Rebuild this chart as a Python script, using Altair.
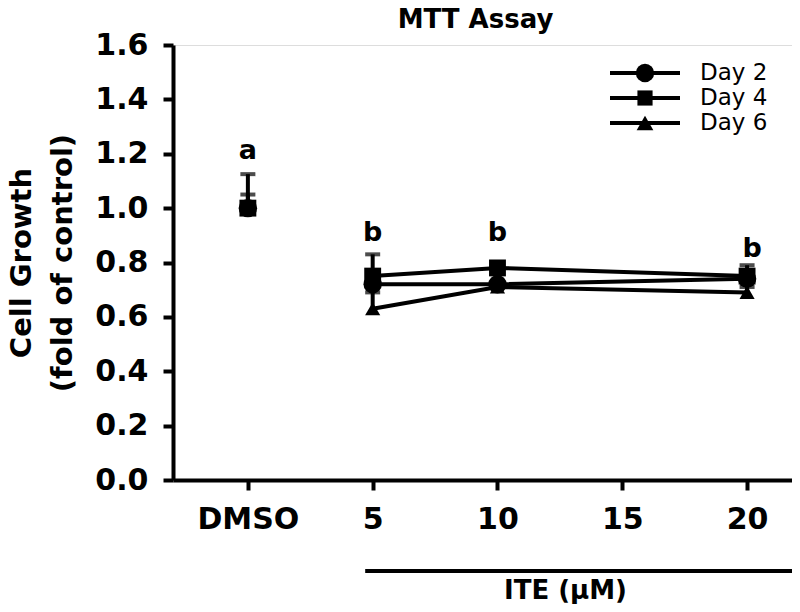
import altair as alt
import pandas as pd

# ---- data ----
doses = [0, 5, 10, 20]          # 0 = DMSO control
series = ["Day 2", "Day 4", "Day 6"]
shapes = ["circle", "square", "triangle-up"]
marker_sizes = [340, 230, 280]
draw_order = [3, 2, 1]          # Day 2 drawn on top
day2 = [1.00, 0.72, 0.72, 0.74]
day4 = [1.00, 0.75, 0.78, 0.75]
day6 = [1.00, 0.63, 0.71, 0.69]
err2 = [0.125, 0.02, 0.01, 0.02]
err4 = [0.05, 0.08, 0.02, 0.04]
err6 = [0.02, 0.06, 0.01, 0.02]

tick_values = [0, 5, 10, 15, 20]
y_ticks = [0.0, 0.2, 0.4, 0.6, 0.8, 1.0, 1.2, 1.4, 1.6]

letters = ["a", "b", "b", "b"]
letter_x = [0, 5, 10, 20.2]
letter_y = [1.21, 0.91, 0.91, 0.85]

bracket_x = [4.7, 21.8]

FONT = "DejaVu Sans"

rows = []
for name, vals, errs, o in [("Day 2", day2, err2, draw_order[0]),
                            ("Day 4", day4, err4, draw_order[1]),
                            ("Day 6", day6, err6, draw_order[2])]:
    for d, v, e in zip(doses, vals, errs):
        rows.append({"series": name, "dose": d, "value": v, "top": v + e, "ord": o})
df = pd.DataFrame(rows)
df_line = df[df["dose"] > 0]

x_scale = alt.Scale(domain=[-3, 21.8], nice=False, zero=False)
y_scale = alt.Scale(domain=[0, 1.6], nice=False)
shape_scale = alt.Scale(domain=series, range=shapes)
size_scale = alt.Scale(domain=series, range=marker_sizes)

x_enc = alt.X(
    "dose:Q",
    scale=x_scale,
    axis=alt.Axis(
        values=tick_values,
        labelExpr="datum.value == 0 ? 'DMSO' : datum.label",
        title="ITE (µM)",
        titleX=392,
        titleY=97,
        titleBaseline="top",
        titleFont=FONT,
        titleFontSize=26,
        titleFontWeight="bold",
        labelFont=FONT,
        labelFontSize=30,
        labelFontWeight="bold",
        labelPadding=14,
        tickSize=10,
        tickWidth=4,
        domainWidth=4,
        domainColor="black",
        tickColor="black",
        labelColor="black",
        titleColor="black",
        grid=False,
        labelFlush=False,
    ),
)
y_enc = alt.Y(
    "value:Q",
    scale=y_scale,
    axis=alt.Axis(
        values=y_ticks,
        format=".1f",
        title=["Cell Growth", "(fold of control)"],
        titleFont=FONT,
        titleFontSize=29,
        titleFontWeight="bold",
        titleLineHeight=41,
        titlePadding=17,
        labelFont=FONT,
        labelFontSize=30,
        labelFontWeight="bold",
        labelPadding=15,
        tickSize=10,
        tickWidth=4,
        domainWidth=4,
        domainColor="black",
        tickColor="black",
        labelColor="black",
        titleColor="black",
        grid=False,
    ),
)

base = alt.Chart(df)

stems = base.mark_rule(color="black", strokeWidth=4).encode(
    x=x_enc, y=y_enc, y2="top:Q"
)
caps = base.mark_tick(color="black", orient="horizontal", size=15, thickness=4).encode(
    x="dose:Q", y="top:Q"
)
lines = alt.Chart(df_line).mark_line(color="black", strokeWidth=4).encode(
    x="dose:Q", y="value:Q", detail="series:N"
)
points = base.mark_point(filled=True, color="black", opacity=1).encode(
    x="dose:Q",
    y="value:Q",
    shape=alt.Shape("series:N", scale=shape_scale, legend=None),
    size=alt.Size("series:N", scale=size_scale, legend=None),
    order=alt.Order("ord:Q"),
)

df_letters = pd.DataFrame({"t": letters, "x": letter_x, "y": letter_y})
letter_text = alt.Chart(df_letters).mark_text(
    font=FONT, fontSize=27, fontWeight="bold", color="black", baseline="middle"
).encode(x="x:Q", y="y:Q", text="t:N")

bracket = alt.Chart(pd.DataFrame({"x": [bracket_x[0]], "x2": [bracket_x[1]]})).mark_rule(
    color="black", strokeWidth=4, clip=False
).encode(x="x:Q", x2="x2:Q", y=alt.value(526))

# manual legend (line through marker + label)
legend_layers = []
leg_y0, leg_dy = 28, 25
for i, (name, shp, sz) in enumerate(zip(series, shapes, marker_sizes)):
    ldf = pd.DataFrame({"name": [name]})
    yy = leg_y0 + i * leg_dy
    legend_layers.append(
        alt.Chart(ldf).mark_rule(color="black", strokeWidth=4).encode(
            x=alt.value(437), x2=alt.value(507), y=alt.value(yy)
        )
    )
    legend_layers.append(
        alt.Chart(ldf).mark_point(filled=True, color="black", opacity=1, size=sz, shape=shp).encode(
            x=alt.value(472), y=alt.value(yy)
        )
    )
    legend_layers.append(
        alt.Chart(ldf).mark_text(
            font=FONT, fontSize=23, color="black", align="left", baseline="middle"
        ).encode(x=alt.value(527), y=alt.value(yy), text="name:N")
    )

chart = alt.layer(
    stems, caps, lines, points, letter_text, bracket, *legend_layers
).properties(
    width=619,
    height=435,
    title=alt.TitleParams(
        "MTT Assay", font=FONT, fontSize=26, fontWeight="bold", color="black", offset=-3, dx=-7
    ),
    autosize=alt.AutoSizeParams(type="none"),
    padding={"left": 165, "top": 37, "right": 0, "bottom": 124},
).configure_view(stroke=None).configure(background="white")

chart.save("out.html", embed_options={"renderer": "svg", "actions": False})
